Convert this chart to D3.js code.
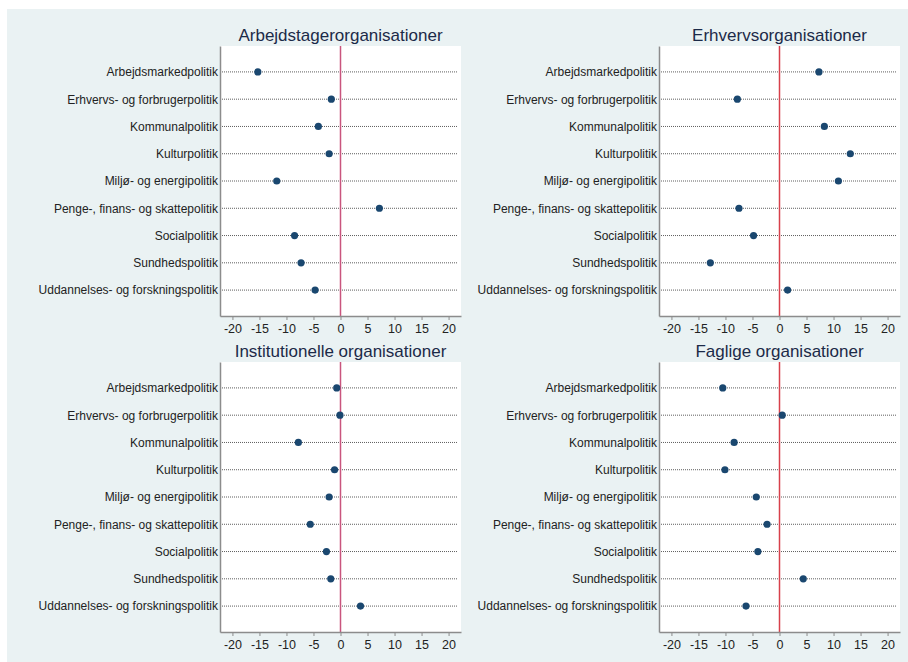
<!DOCTYPE html>
<html>
<head>
<meta charset="utf-8">
<script src="https://cdn.jsdelivr.net/npm/d3@7"></script>
<style>
  body { margin: 0; background: #fff; }
  svg { display: block; font-family: "Liberation Sans", Arial, sans-serif; }
</style>
</head>
<body>
<svg id="chart" width="908" height="662"></svg>
<script>
// policy areas, same order in every panel
const categories = [
    "Arbejdsmarkedpolitik",
    "Erhvervs- og forbrugerpolitik",
    "Kommunalpolitik",
    "Kulturpolitik",
    "Miljø- og energipolitik",
    "Penge-, finans- og skattepolitik",
    "Socialpolitik",
    "Sundhedspolitik",
    "Uddannelses- og forskningspolitik"
];

const titles = [
    "Arbejdstagerorganisationer",
    "Erhvervsorganisationer",
    "Institutionelle organisationer",
    "Faglige organisationer"
];

const arbejdstager = [-15.3, -1.7, -4.1, -2.1, -11.8, 7.2, -8.5, -7.3, -4.7];
const erhverv = [7.3, -7.8, 8.3, 13.1, 10.9, -7.5, -4.8, -12.8, 1.5];
const institutionelle = [-0.7, -0.1, -7.8, -1.1, -2.1, -5.6, -2.6, -1.8, 3.7];
const faglige = [-10.5, 0.5, -8.4, -10.1, -4.3, -2.3, -4.0, 4.4, -6.2];

const xTicks = [-20, -15, -10, -5, 0, 5, 10, 15, 20];
const xDomain = [-22.3, 22.3];

const series = [arbejdstager, erhverv, institutionelle, faglige];

const svg = d3.select("#chart");

// light stata-like background
svg.append("rect")
    .attr("x", 7).attr("y", 9)
    .attr("width", 901).attr("height", 653)
    .attr("fill", "#eaf2f3");

const colsX = [[220, 461], [659, 900]];
const rowsY = [[46, 316], [362, 632]];
const zeroColors = ["#c9557e", "#d8404b"];

function drawPanel(idx) {
    const col = idx % 2, row = Math.floor(idx / 2);
    const [x0, x1] = colsX[col];
    const [y0, y1] = rowsY[row];
    const values = series[idx];

    const x = d3.scaleLinear().domain(xDomain).range([x0, x1]);
    const y = d3.scalePoint().domain(categories).range([y0, y1]).padding(0.95);

    const g = svg.append("g");

    g.append("rect")
        .attr("x", x0).attr("y", y0)
        .attr("width", x1 - x0).attr("height", y1 - y0)
        .attr("fill", "#fff");

    // dotted guide lines
    g.append("g")
        .selectAll("line")
        .data(categories)
        .join("line")
        .attr("x1", x0)
        .attr("x2", x1 - 3)
        .attr("y1", d => y(d))
        .attr("y2", d => y(d))
        .attr("stroke", "#5e5e5e")
        .attr("stroke-width", 1)
        .attr("stroke-dasharray", "1,1");

    // zero reference line
    g.append("line")
        .attr("x1", x(0)).attr("x2", x(0))
        .attr("y1", y0).attr("y2", y1)
        .attr("stroke", zeroColors[col])
        .attr("stroke-width", 1.5);

    const gx = g.append("g")
        .attr("transform", `translate(0,${y1})`)
        .call(d3.axisBottom(x).tickValues(xTicks).tickFormat(d => String(d))
            .tickSize(4).tickSizeOuter(0).tickPadding(4));
    gx.select(".domain").attr("stroke", "#8c8c8c").attr("stroke-width", 1.5);
    gx.selectAll(".tick line").attr("stroke", "#8c8c8c");
    gx.selectAll("text")
        .attr("font-size", 12.5)
        .attr("fill", "#222");

    const gy = g.append("g")
        .attr("transform", `translate(${x0},0)`)
        .call(d3.axisLeft(y).tickSize(0).tickPadding(2));
    gy.select(".domain").attr("stroke", "#8c8c8c").attr("stroke-width", 1.5);
    gy.selectAll("text")
        .attr("font-size", 12)
        .attr("fill", "#222");

    g.append("g")
        .selectAll("circle")
        .data(values)
        .join("circle")
        .attr("cx", d => x(d))
        .attr("cy", (d, i) => y(categories[i]))
        .attr("r", 3.6)
        .attr("fill", "#1a476f");

    g.append("text")
        .attr("x", (x0 + x1) / 2)
        .attr("y", y0 - 5)
        .attr("text-anchor", "middle")
        .attr("font-size", 17)
        .attr("fill", "#1c2a48")
        .text(titles[idx]);
}

series.forEach((s, i) => drawPanel(i));
</script>
</body>
</html>
